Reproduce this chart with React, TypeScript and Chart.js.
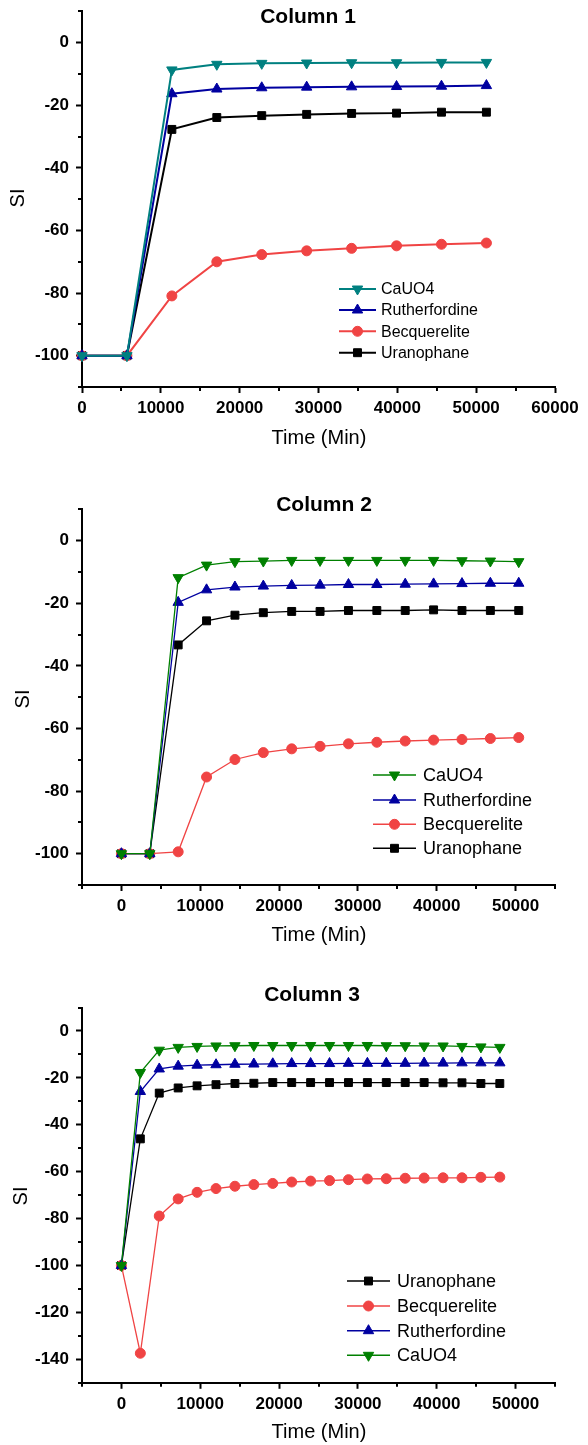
import React, { useEffect, useRef } from 'react';
import { Chart, registerables } from 'chart.js';

Chart.register(...registerables);

const FONT = '"Liberation Sans", Arial, Helvetica, sans-serif';

const TEAL = '#008080';
const GREEN = '#008000';
const NAVY = '#0000A0';
const RED = '#F04444';
const BLACK = '#000000';

// ---- Column 1 ----
const col1Time = [0, 5700, 11400, 17100, 22800, 28500, 34200, 39900, 45600, 51300];
const col1CaUO4 = [-100, -100, -8.7, -6.9, -6.6, -6.5, -6.4, -6.4, -6.3, -6.3];
const col1Rutherfordine = [-100, -100, -16.3, -14.8, -14.4, -14.2, -14.1, -14.0, -13.9, -13.7];
const col1Becquerelite = [-100, -100, -80.9, -70.0, -67.7, -66.5, -65.7, -64.9, -64.4, -64.0];
const col1Uranophane = [-100, -100, -27.7, -23.9, -23.3, -22.9, -22.6, -22.5, -22.2, -22.2];

// ---- Column 2 ----
const col2Time = [0, 3600, 7200, 10800, 14400, 18000, 21600, 25200, 28800, 32400, 36000, 39600, 43200, 46800, 50400];
const col2CaUO4 = [-100, -100, -11.8, -7.8, -6.7, -6.5, -6.3, -6.3, -6.3, -6.3, -6.3, -6.3, -6.4, -6.5, -6.7];
const col2Rutherfordine = [-100, -100, -19.7, -15.7, -14.8, -14.5, -14.3, -14.2, -14.0, -14.0, -13.9, -13.8, -13.7, -13.6, -13.6];
const col2Becquerelite = [-100, -100, -99.4, -75.5, -69.9, -67.7, -66.5, -65.7, -64.9, -64.4, -64.0, -63.7, -63.5, -63.2, -62.9];
const col2Uranophane = [-100, -100, -33.3, -25.6, -23.8, -23.0, -22.6, -22.6, -22.3, -22.3, -22.3, -22.1, -22.3, -22.3, -22.3];

// ---- Column 3 ----
const col3Time = [0, 2400, 4800, 7200, 9600, 12000, 14400, 16800, 19200, 21600, 24000, 26400, 28800, 31200, 33600, 36000, 38400, 40800, 43200, 45600, 48000];
const col3CaUO4 = [-100, -17.7, -8.2, -7.0, -6.6, -6.4, -6.3, -6.2, -6.2, -6.2, -6.2, -6.2, -6.2, -6.2, -6.3, -6.3, -6.4, -6.4, -6.6, -6.8, -7.0];
const col3Rutherfordine = [-100, -25.8, -16.2, -15.0, -14.6, -14.4, -14.2, -14.1, -14.0, -13.9, -13.9, -13.9, -13.8, -13.8, -13.8, -13.8, -13.7, -13.7, -13.6, -13.6, -13.6];
const col3Becquerelite = [-100, -137.4, -78.9, -71.6, -68.8, -67.2, -66.2, -65.5, -65.0, -64.4, -64.0, -63.8, -63.4, -63.1, -63.0, -62.8, -62.7, -62.6, -62.6, -62.4, -62.3];
const col3Uranophane = [-100, -46.0, -26.5, -24.3, -23.4, -22.9, -22.4, -22.3, -22.0, -22.0, -22.0, -22.0, -22.0, -22.0, -22.0, -22.0, -22.0, -22.1, -22.1, -22.4, -22.4];

const X_TITLE = 'Time (Min)';
const Y_TITLE = 'SI';

type Marker = 'rect' | 'circle' | 'up' | 'down';
type Series = { label: string; values: number[]; color: string; marker: Marker };

type PanelSpec = {
  height: number;
  title: string;
  titlePos: [number, number];
  xTitlePos: [number, number];
  yTitlePos: [number, number];
  time: number[];
  series: Series[];
  legend: string[];
  legendBox: { x1: number; x2: number; mx: number; textX: number; rows: number[]; font: number; lineWidth: number };
  xRange: [number, number];
  yRange: [number, number];
  area: { top: number; bottom: number; left: number; right: number };
  lineWidth: number;
};

const RADIUS: Record<Marker, number> = { rect: 5.6, circle: 5, up: 6, down: 6 };

function drawMarker(ctx: CanvasRenderingContext2D, marker: Marker, x: number, y: number, r: number, color: string) {
  ctx.save();
  ctx.fillStyle = color;
  ctx.strokeStyle = color;
  ctx.lineWidth = 1;
  ctx.beginPath();
  if (marker === 'circle') {
    ctx.arc(x, y, r, 0, Math.PI * 2);
  } else if (marker === 'rect') {
    const s = r * Math.SQRT1_2;
    ctx.rect(x - s, y - s, 2 * s, 2 * s);
  } else {
    let rad = marker === 'down' ? Math.PI : 0;
    for (let k = 0; k < 3; k++) {
      const px = x + Math.sin(rad) * r;
      const py = y - Math.cos(rad) * r;
      if (k === 0) ctx.moveTo(px, py);
      else ctx.lineTo(px, py);
      rad += (Math.PI * 2) / 3;
    }
    ctx.closePath();
  }
  ctx.fill();
  ctx.stroke();
  ctx.restore();
}

const bySeries = (list: Series[], label: string) => list.find((s) => s.label === label)!;

function Panel({ spec }: { spec: PanelSpec }) {
  const ref = useRef<HTMLCanvasElement | null>(null);

  useEffect(() => {
    const canvas = ref.current;
    if (!canvas) return;
    const { area, height } = spec;

    const decorations = {
      id: 'decorations',
      afterDraw(chart: any) {
        const ctx: CanvasRenderingContext2D = chart.ctx;
        const xs = chart.scales.x;
        const ys = chart.scales.y;
        const ca = chart.chartArea;
        ctx.save();
        ctx.strokeStyle = '#000';
        ctx.lineWidth = 2;
        // short ticks between the labelled ones
        ctx.beginPath();
        for (let v = spec.yRange[0]; v <= spec.yRange[1]; v += 10) {
          if (v % 20 === 0) continue;
          const py = Math.round(ys.getPixelForValue(v));
          ctx.moveTo(ca.left - 4, py);
          ctx.lineTo(ca.left, py);
        }
        for (let v = spec.xRange[0]; v <= spec.xRange[1]; v += 5000) {
          if (v % 10000 === 0) continue;
          const px = Math.round(xs.getPixelForValue(v));
          ctx.moveTo(px, ca.bottom);
          ctx.lineTo(px, ca.bottom + 4);
        }
        ctx.stroke();

        // titles
        ctx.fillStyle = '#000';
        ctx.textAlign = 'center';
        ctx.textBaseline = 'middle';
        ctx.font = `bold 21px ${FONT}`;
        ctx.fillText(spec.title, spec.titlePos[0], spec.titlePos[1]);
        ctx.font = `20px ${FONT}`;
        ctx.fillText(X_TITLE, spec.xTitlePos[0], spec.xTitlePos[1]);
        ctx.save();
        ctx.translate(spec.yTitlePos[0], spec.yTitlePos[1]);
        ctx.rotate(-Math.PI / 2);
        ctx.fillText(Y_TITLE, 0, 0);
        ctx.restore();

        // legend
        const lb = spec.legendBox;
        ctx.textAlign = 'left';
        ctx.font = `${lb.font}px ${FONT}`;
        spec.legend.forEach((label, i) => {
          const s = bySeries(spec.series, label);
          const y = lb.rows[i];
          ctx.strokeStyle = s.color;
          ctx.lineWidth = lb.lineWidth;
          ctx.beginPath();
          ctx.moveTo(lb.x1, y);
          ctx.lineTo(lb.x2, y);
          ctx.stroke();
          drawMarker(ctx, s.marker, lb.mx, y, RADIUS[s.marker], s.color);
          ctx.fillStyle = '#000';
          ctx.fillText(label, lb.textX, y + 1);
        });
        ctx.restore();
      },
    };

    const datasets = spec.series.map((s) => ({
      label: s.label,
      data: spec.time.map((t, i) => ({ x: t, y: s.values[i] })),
      borderColor: s.color,
      backgroundColor: s.color,
      borderWidth: spec.lineWidth,
      pointStyle: s.marker === 'circle' ? 'circle' : s.marker === 'rect' ? 'rect' : 'triangle',
      pointRotation: s.marker === 'down' ? 180 : 0,
      pointRadius: RADIUS[s.marker],
      pointBorderWidth: 1,
      pointBackgroundColor: s.color,
      pointBorderColor: s.color,
      tension: 0,
      clip: false as any,
    }));

    const tickFont = { family: FONT, size: 17, weight: 'bold' as const };

    const chart = new Chart(canvas, {
      type: 'line',
      data: { datasets },
      plugins: [decorations],
      options: {
        responsive: false,
        animation: false,
        devicePixelRatio: 1,
        layout: { padding: { left: 0, top: area.top, right: 588 - area.right, bottom: 0 } },
        plugins: { legend: { display: false }, title: { display: false }, tooltip: { enabled: false } },
        scales: {
          x: {
            type: 'linear',
            min: spec.xRange[0],
            max: spec.xRange[1],
            afterFit: (s: any) => {
              s.height = height - area.bottom;
              s.paddingLeft = 0;
              s.paddingRight = 0;
            },
            border: { display: true, color: '#000', width: 2 },
            grid: {
              display: true,
              drawOnChartArea: false,
              drawTicks: true,
              tickLength: 6,
              tickWidth: 2,
              tickColor: '#000',
            },
            ticks: {
              stepSize: 5000,
              maxTicksLimit: 100,
              autoSkip: false,
              maxRotation: 0,
              padding: 5,
              color: '#000',
              font: tickFont,
              callback: (v: any) => (Number(v) % 10000 === 0 ? String(v) : null),
            },
          },
          y: {
            type: 'linear',
            min: spec.yRange[0],
            max: spec.yRange[1],
            afterFit: (s: any) => {
              s.width = area.left;
              s.paddingTop = 0;
              s.paddingBottom = 0;
            },
            border: { display: true, color: '#000', width: 2 },
            grid: {
              display: true,
              drawOnChartArea: false,
              drawTicks: true,
              tickLength: 6,
              tickWidth: 2,
              tickColor: '#000',
            },
            ticks: {
              stepSize: 10,
              maxTicksLimit: 100,
              autoSkip: false,
              padding: 7,
              color: '#000',
              font: tickFont,
              callback: (v: any) => (Number(v) % 20 === 0 ? String(v) : null),
            },
          },
        },
      } as any,
    });

    return () => chart.destroy();
  }, [spec]);

  return <canvas ref={ref} width={588} height={spec.height} style={{ display: 'block', width: 588, height: spec.height }} />;
}

const panel1: PanelSpec = {
  height: 480,
  title: 'Column 1',
  titlePos: [308, 17],
  xTitlePos: [319, 438],
  yTitlePos: [18, 198],
  time: col1Time,
  series: [
    { label: 'CaUO4', values: col1CaUO4, color: TEAL, marker: 'down' },
    { label: 'Rutherfordine', values: col1Rutherfordine, color: NAVY, marker: 'up' },
    { label: 'Becquerelite', values: col1Becquerelite, color: RED, marker: 'circle' },
    { label: 'Uranophane', values: col1Uranophane, color: BLACK, marker: 'rect' },
  ],
  legend: ['CaUO4', 'Rutherfordine', 'Becquerelite', 'Uranophane'],
  legendBox: { x1: 339, x2: 376, mx: 357.5, textX: 381, rows: [289, 310, 331.3, 352.7], font: 16, lineWidth: 2 },
  xRange: [0, 60000],
  yRange: [-110, 10],
  area: { top: 11.4, bottom: 387, left: 82, right: 555 },
  lineWidth: 2,
};

const panel2: PanelSpec = {
  height: 490,
  title: 'Column 2',
  titlePos: [324, 25],
  xTitlePos: [319, 455],
  yTitlePos: [23, 219],
  time: col2Time,
  series: [
    { label: 'CaUO4', values: col2CaUO4, color: GREEN, marker: 'down' },
    { label: 'Rutherfordine', values: col2Rutherfordine, color: NAVY, marker: 'up' },
    { label: 'Becquerelite', values: col2Becquerelite, color: RED, marker: 'circle' },
    { label: 'Uranophane', values: col2Uranophane, color: BLACK, marker: 'rect' },
  ],
  legend: ['CaUO4', 'Rutherfordine', 'Becquerelite', 'Uranophane'],
  legendBox: { x1: 373, x2: 416, mx: 394.5, textX: 423, rows: [295, 320, 344.3, 368.3], font: 18, lineWidth: 1.5 },
  xRange: [-5000, 55000],
  yRange: [-110, 10],
  area: { top: 29.4, bottom: 405, left: 82, right: 555 },
  lineWidth: 1.3,
};

const panel3: PanelSpec = {
  height: 475,
  title: 'Column 3',
  titlePos: [312, 25],
  xTitlePos: [319, 462],
  yTitlePos: [21, 226],
  time: col3Time,
  series: [
    { label: 'CaUO4', values: col3CaUO4, color: GREEN, marker: 'down' },
    { label: 'Rutherfordine', values: col3Rutherfordine, color: NAVY, marker: 'up' },
    { label: 'Becquerelite', values: col3Becquerelite, color: RED, marker: 'circle' },
    { label: 'Uranophane', values: col3Uranophane, color: BLACK, marker: 'rect' },
  ],
  legend: ['Uranophane', 'Becquerelite', 'Rutherfordine', 'CaUO4'],
  legendBox: { x1: 347, x2: 390, mx: 368.5, textX: 397, rows: [311, 336, 360.7, 385.3], font: 18, lineWidth: 1.5 },
  xRange: [-5000, 55000],
  yRange: [-150, 10],
  area: { top: 37.5, bottom: 412.8, left: 82, right: 555 },
  lineWidth: 1.3,
};

export default function App() {
  return (
    <div style={{ position: 'absolute', left: 0, top: 0, width: 588, height: 1445, background: '#fff' }}>
      <Panel spec={panel1} />
      <Panel spec={panel2} />
      <Panel spec={panel3} />
    </div>
  );
}
